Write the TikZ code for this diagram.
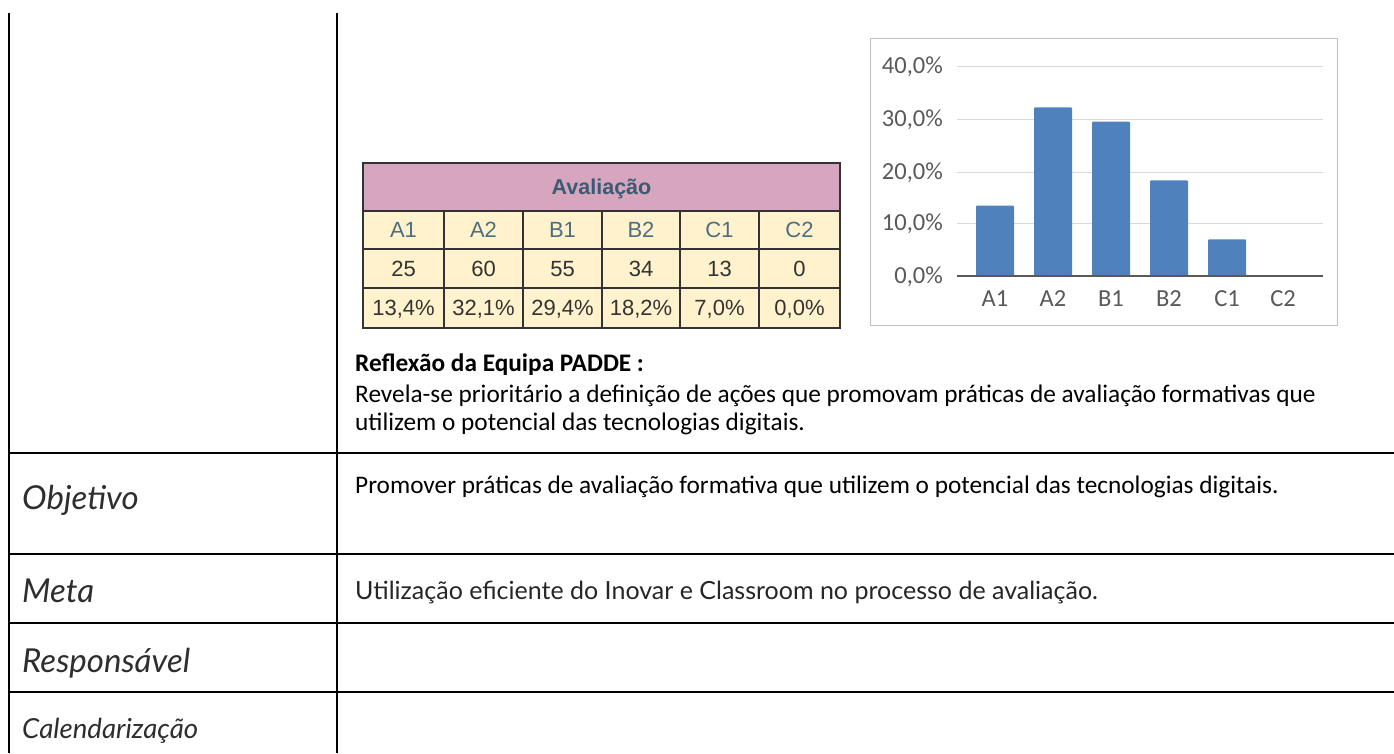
\documentclass[tikz,border=0pt]{standalone}
\usepackage{fontspec}
\setmainfont{Carlito}
\newfontfamily\lato{Lato}
\newfontfamily\arialf{Liberation Sans}
\definecolor{rule}{HTML}{000000}
\definecolor{hdrpink}{HTML}{D5A6BD}
\definecolor{cream}{HTML}{FFF2CC}
\definecolor{hdrtxt}{HTML}{3D5A75}
\definecolor{codetxt}{HTML}{4C6E80}
\definecolor{bar}{HTML}{4F81BD}
\definecolor{gridg}{HTML}{D9D9D9}
\definecolor{axisg}{HTML}{595959}
\definecolor{frameg}{HTML}{BFBFBF}
\definecolor{labtxt}{HTML}{2E2E2E}
\tikzset{
  rowline/.style={draw=rule, line width=2pt},
  label/.style={anchor=base west, inner sep=0pt, text=labtxt, font=\lato\itshape\fontsize{33}{36}\selectfont},
  body/.style={anchor=base west, inner sep=0pt, text=black, font=\fontsize{25.3}{28}\selectfont},
  ttxt/.style={inner sep=0pt, text height=15.8pt, text depth=0pt, font=\arialf\fontsize{22}{24}\selectfont},
  ctxt/.style={inner sep=0pt, text height=15.7pt, text depth=0pt, text=axisg, font=\fontsize{24.5}{26}\selectfont},
  barst/.style={fill=bar, draw=none, rounded corners=1pt}
}
\begin{document}
\begin{tikzpicture}[x=1pt,y=-1pt]
\useasboundingbox (0,0) rectangle (1394,753);
% main grid
\coordinate (L0) at (9,13); \coordinate (L1) at (9,753);
\coordinate (D0) at (337,13); \coordinate (D1) at (337,753);
\draw[rowline] (L0) -- (L1);
\draw[rowline] (D0) -- (D1);
\foreach \yy/\nm in {453/a,554/b,623/c,692/d}{
  \coordinate (h\nm0) at (9,\yy); \coordinate (h\nm1) at (1394,\yy);
  \draw[rowline] (h\nm0) -- (h\nm1);
}
% data table
\fill[hdrpink] (363,163) rectangle (840,211);
\fill[cream] (363,211) rectangle (840,328);
\draw[black!80, line width=1.5pt] (363,163) rectangle (840,328);
\foreach \yy in {211,249,288}{\draw[black!80, line width=1.3pt] (363,\yy) -- (840,\yy);}
\foreach \xx in {444,523,602,680,759}{\draw[black!80, line width=1.3pt] (\xx,211) -- (\xx,328);}
\node[ttxt, text=hdrtxt, font=\arialf\bfseries\fontsize{21.5}{24}\selectfont] (thead) at (601.5,187) {Avaliação};
\foreach \cx/\c/\n/\p [count=\i] in {403.5/A1/25/{13,4\%},483.5/A2/60/{32,1\%},562.5/B1/55/{29,4\%},641/B2/34/{18,2\%},719.5/C1/13/{7,0\%},799.5/C2/0/{0,0\%}}{
  \node[ttxt, text=codetxt] (tc\i) at (\cx,230) {\c};
  \node[ttxt, text=black!80] (tn\i) at (\cx,268.5) {\n};
  \node[ttxt, text=black!80] (tp\i) at (\cx,308) {\p};
}
% chart
\draw[frameg, line width=1pt] (870,38) rectangle (1337,325);
\foreach \yy/\lab [count=\i] in {66/{40,0\%},119/{30,0\%},172/{20,0\%},223/{10,0\%},276/{0,0\%}}{
  \node[ctxt, anchor=east] (yl\i) at (943,\yy) {\lab};
}
\foreach \yy in {66,119,172,223}{\draw[gridg, line width=1pt] (957,\yy) -- (1323,\yy);}
\foreach \cx/\v/\lab [count=\i] in {995/13.4/A1,1053/32.1/A2,1111/29.4/B1,1169/18.2/B2,1227/7.0/C1,1283/0/C2}{
  \ifdim \v pt>0pt
    \fill[barst] (\cx-19,276) rectangle (\cx+19,276-\v*5.25);
  \fi
  \node[ctxt] (xl\i) at (\cx,299) {\lab};
}
\draw[axisg, line width=1.2pt] (957,276) -- (1323,276);
% reflection text
\node[body, font=\bfseries\fontsize{25.3}{28}\selectfont] (refl) at (355,371) {Reflexão da Equipa PADDE :};
\node[body] (refl1) at (355,402) {Revela-se prioritário a definição de ações que promovam práticas de avaliação formativas que};
\node[body] (refl2) at (355,430) {utilizem o potencial das tecnologias digitais.};
% labels
\node[label] (obj) at (22,509) {Objetivo};
\node[label] (meta) at (22,602) {Meta};
\node[label] (resp) at (22,672) {Responsável};
\node[label, font=\lato\itshape\fontsize{27.6}{30}\selectfont] (cal) at (22,738) {Calendarização};
\node[body] (objt) at (355,493) {Promover práticas de avaliação formativa que utilizem o potencial das tecnologias digitais.};
\node[body, font=\lato\fontsize{25}{28}\selectfont, text=black!85] (metat) at (355,599) {Utilização eficiente do Inovar e Classroom no processo de avaliação.};
\end{tikzpicture}
\end{document}
